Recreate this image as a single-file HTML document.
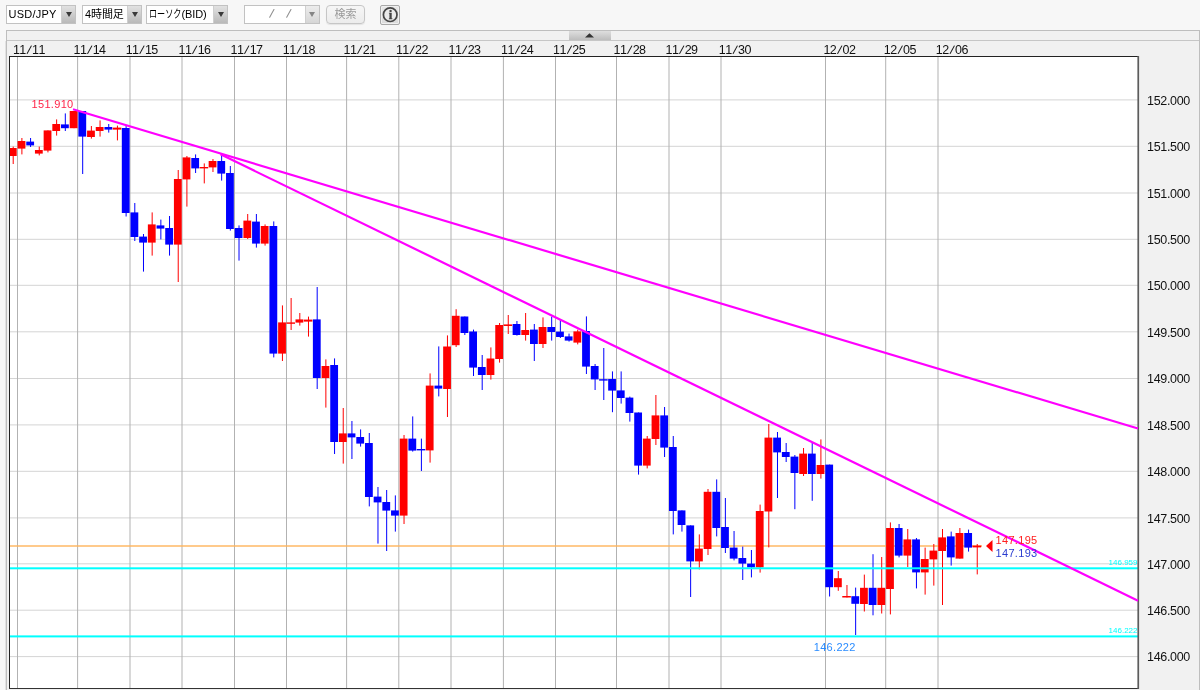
<!DOCTYPE html>
<html lang="ja"><head><meta charset="utf-8"><title>USD/JPY</title>
<style>
html,body{margin:0;padding:0}
body{width:1200px;height:690px;overflow:hidden;position:relative;background:#f7f7f7;font-family:"Liberation Sans","Noto Sans CJK JP",sans-serif;font-size:11px;color:#000}
.panel{position:absolute;left:6px;top:30px;width:1192px;height:700px;border:1px solid #bebebe;background:#f1f1f1;box-sizing:content-box}
.sep{position:absolute;left:7px;top:40px;width:1192px;height:1px;background:#c6c6c6}
.collapse{position:absolute;left:569px;top:31px;width:42px;height:9px;background:linear-gradient(#dedede,#bdbdbd)}
.dd{position:absolute;top:5px;height:17px;border:1px solid #c2c2c2;background:#fff;box-sizing:content-box;white-space:nowrap;line-height:17px}
.dd .t{position:absolute;left:2px;top:0;letter-spacing:-0.1px}
.dd .k{display:inline-block;width:32.5px;height:17px;vertical-align:top}
.dd .k span{display:inline-block;transform:scaleX(0.74);transform-origin:0 50%;white-space:nowrap}
.dd .sl{position:absolute;top:-0.6px;font-size:13px;color:#8c8c8c;transform:rotate(13deg)}
.dd .b{position:absolute;right:0;top:0;width:13px;height:17px;border-left:1px solid #cfcfcf;background:linear-gradient(#e2e2e2,#b9b9b9)}
.dd .b:after{content:"";position:absolute;left:3.5px;top:6px;border-left:3px solid transparent;border-right:3px solid transparent;border-top:5px solid #3a3a3a}
.dd.dis .b{background:linear-gradient(#ececec,#d6d6d6)}
.dd.dis .b:after{border-top-color:#858585;left:3px}
.btn{position:absolute;left:326px;top:5px;width:37px;height:17px;border:1px solid #c6c6c6;border-radius:4px;box-shadow:0 1px 1px rgba(0,0,0,0.08);background:linear-gradient(#f6f6f6,#ececec);color:#9a9a9a;text-align:center;line-height:17px}
.info{position:absolute;left:380px;top:5px;width:18px;height:18px;border:1px solid #a9a9a9;border-radius:2px;background:linear-gradient(#e8e8e8,#dcdcdc);box-shadow:inset 0 0 0 1px #f0f0f0}
</style></head><body>
<div class="dd" style="left:6px;width:68px"><span class="t" style="left:1.5px;letter-spacing:0.25px">USD/JPY</span><span class="b"></span></div>
<div class="dd" style="left:82px;width:58px"><span class="t">4時間足</span><span class="b"></span></div>
<div class="dd" style="left:146px;width:80px"><span class="t"><span class="k"><span>ローソク</span></span>(BID)</span><span class="b"></span></div>
<div class="dd dis" style="left:244px;width:74px"><span class="sl" style="left:24.8px">/</span><span class="sl" style="left:41.8px">/</span><span class="b"></span></div>
<div class="btn">検索</div>
<div class="info"><svg width="18" height="18" viewBox="0 0 18 18" style="position:absolute;left:0;top:0"><circle cx="9.2" cy="8.7" r="6.8" fill="#ebebeb" stroke="#464646" stroke-width="1.7"/><text x="9.45" y="13.2" font-family="Liberation Serif,serif" font-weight="bold" font-size="13" text-anchor="middle" fill="#444" stroke="#444" stroke-width="0.35">i</text></svg></div>
<div class="panel"></div>
<div style="position:absolute;left:5px;top:41px;width:1px;height:649px;background:#e2e2e2"></div>
<div class="sep"></div>
<div class="collapse"></div>
<svg width="1200" height="690" viewBox="0 0 1200 690" style="position:absolute;left:0;top:0">
<rect x="10" y="57" width="1128" height="631" fill="#fff"/>
<rect x="10" y="99.4" width="1128" height="1" fill="#d4d4d4"/>
<rect x="10" y="145.8" width="1128" height="1" fill="#d4d4d4"/>
<rect x="10" y="192.5" width="1128" height="1" fill="#d4d4d4"/>
<rect x="10" y="238.8" width="1128" height="1" fill="#d4d4d4"/>
<rect x="10" y="284.8" width="1128" height="1" fill="#d4d4d4"/>
<rect x="10" y="331.3" width="1128" height="1" fill="#d4d4d4"/>
<rect x="10" y="378.0" width="1128" height="1" fill="#d4d4d4"/>
<rect x="10" y="424.4" width="1128" height="1" fill="#d4d4d4"/>
<rect x="10" y="470.8" width="1128" height="1" fill="#d4d4d4"/>
<rect x="10" y="517.4" width="1128" height="1" fill="#d4d4d4"/>
<rect x="10" y="563.3" width="1128" height="1" fill="#d4d4d4"/>
<rect x="10" y="609.7" width="1128" height="1" fill="#d4d4d4"/>
<rect x="10" y="656.1" width="1128" height="1" fill="#d4d4d4"/>
<rect x="17.0" y="57" width="1" height="631" fill="#b2b2b2"/>
<rect x="77.1" y="57" width="1" height="631" fill="#b2b2b2"/>
<rect x="129.5" y="57" width="1" height="631" fill="#b2b2b2"/>
<rect x="181.5" y="57" width="1" height="631" fill="#b2b2b2"/>
<rect x="234.0" y="57" width="1" height="631" fill="#b2b2b2"/>
<rect x="286.0" y="57" width="1" height="631" fill="#b2b2b2"/>
<rect x="346.1" y="57" width="1" height="631" fill="#b2b2b2"/>
<rect x="398.3" y="57" width="1" height="631" fill="#b2b2b2"/>
<rect x="450.5" y="57" width="1" height="631" fill="#b2b2b2"/>
<rect x="502.9" y="57" width="1" height="631" fill="#b2b2b2"/>
<rect x="555.0" y="57" width="1" height="631" fill="#b2b2b2"/>
<rect x="616.0" y="57" width="1" height="631" fill="#b2b2b2"/>
<rect x="668.5" y="57" width="1" height="631" fill="#b2b2b2"/>
<rect x="720.5" y="57" width="1" height="631" fill="#b2b2b2"/>
<rect x="825.0" y="57" width="1" height="631" fill="#b2b2b2"/>
<rect x="885.2" y="57" width="1" height="631" fill="#b2b2b2"/>
<rect x="937.5" y="57" width="1" height="631" fill="#b2b2b2"/>
<rect x="10" y="545.3" width="972" height="1.4" fill="#ffb45a"/>
<g shape-rendering="crispEdges">
</g>
<rect x="12.70" y="146.6" width="1" height="17.4" fill="#ff0000"/>
<rect x="10.00" y="148.0" width="6.70" height="8.0" fill="#ff0000"/>
<rect x="21.39" y="138.0" width="1" height="16.4" fill="#ff0000"/>
<rect x="17.59" y="141.0" width="7.80" height="7.6" fill="#ff0000"/>
<rect x="30.07" y="138.0" width="1" height="9.0" fill="#0000ff"/>
<rect x="26.27" y="141.6" width="7.80" height="3.8" fill="#0000ff"/>
<rect x="38.75" y="146.6" width="1" height="8.8" fill="#ff0000"/>
<rect x="34.95" y="150.0" width="7.80" height="3.6" fill="#ff0000"/>
<rect x="47.44" y="130.4" width="1" height="22.0" fill="#ff0000"/>
<rect x="43.64" y="130.4" width="7.80" height="20.2" fill="#ff0000"/>
<rect x="56.12" y="119.4" width="1" height="16.2" fill="#ff0000"/>
<rect x="52.33" y="124.0" width="7.80" height="7.0" fill="#ff0000"/>
<rect x="64.81" y="113.4" width="1" height="17.6" fill="#0000ff"/>
<rect x="61.01" y="124.4" width="7.80" height="3.8" fill="#0000ff"/>
<rect x="73.50" y="111.0" width="1" height="17.2" fill="#ff0000"/>
<rect x="69.70" y="111.0" width="7.80" height="17.2" fill="#ff0000"/>
<rect x="82.18" y="111.0" width="1" height="63.0" fill="#0000ff"/>
<rect x="78.38" y="111.0" width="7.80" height="25.6" fill="#0000ff"/>
<rect x="90.87" y="126.0" width="1" height="12.6" fill="#ff0000"/>
<rect x="87.07" y="130.6" width="7.80" height="6.4" fill="#ff0000"/>
<rect x="99.55" y="120.4" width="1" height="16.2" fill="#ff0000"/>
<rect x="95.75" y="127.0" width="7.80" height="4.0" fill="#ff0000"/>
<rect x="108.24" y="124.0" width="1" height="8.6" fill="#0000ff"/>
<rect x="104.44" y="127.0" width="7.80" height="2.6" fill="#0000ff"/>
<rect x="116.92" y="125.6" width="1" height="14.8" fill="#ff0000"/>
<rect x="112.72" y="127.6" width="8.60" height="2.0" fill="#ff0000"/>
<rect x="125.61" y="125.0" width="1" height="91.5" fill="#0000ff"/>
<rect x="121.81" y="128.0" width="7.80" height="85.0" fill="#0000ff"/>
<rect x="134.29" y="203.0" width="1" height="38.0" fill="#0000ff"/>
<rect x="130.49" y="212.4" width="7.80" height="24.6" fill="#0000ff"/>
<rect x="142.98" y="234.0" width="1" height="37.6" fill="#0000ff"/>
<rect x="139.18" y="236.6" width="7.80" height="6.0" fill="#0000ff"/>
<rect x="151.66" y="212.4" width="1" height="43.2" fill="#ff0000"/>
<rect x="147.86" y="224.4" width="7.80" height="18.2" fill="#ff0000"/>
<rect x="160.35" y="219.6" width="1" height="19.8" fill="#0000ff"/>
<rect x="156.55" y="225.4" width="7.80" height="3.2" fill="#0000ff"/>
<rect x="169.03" y="216.0" width="1" height="39.6" fill="#0000ff"/>
<rect x="165.23" y="228.0" width="7.80" height="16.6" fill="#0000ff"/>
<rect x="177.72" y="170.0" width="1" height="112.0" fill="#ff0000"/>
<rect x="173.92" y="179.0" width="7.80" height="65.6" fill="#ff0000"/>
<rect x="186.40" y="156.0" width="1" height="50.6" fill="#ff0000"/>
<rect x="182.60" y="157.4" width="7.80" height="22.0" fill="#ff0000"/>
<rect x="195.09" y="154.4" width="1" height="18.6" fill="#0000ff"/>
<rect x="191.29" y="158.0" width="7.80" height="10.4" fill="#0000ff"/>
<rect x="203.77" y="163.4" width="1" height="20.0" fill="#ff0000"/>
<rect x="199.57" y="167.0" width="8.60" height="1.4" fill="#ff0000"/>
<rect x="212.46" y="159.0" width="1" height="13.0" fill="#ff0000"/>
<rect x="208.66" y="161.0" width="7.80" height="6.4" fill="#ff0000"/>
<rect x="221.14" y="154.5" width="1" height="26.1" fill="#0000ff"/>
<rect x="217.34" y="161.0" width="7.80" height="12.6" fill="#0000ff"/>
<rect x="229.83" y="166.0" width="1" height="64.6" fill="#0000ff"/>
<rect x="226.03" y="173.0" width="7.80" height="56.0" fill="#0000ff"/>
<rect x="238.51" y="225.4" width="1" height="35.2" fill="#0000ff"/>
<rect x="234.71" y="228.0" width="7.80" height="10.0" fill="#0000ff"/>
<rect x="247.20" y="214.0" width="1" height="25.0" fill="#ff0000"/>
<rect x="243.40" y="220.6" width="7.80" height="17.4" fill="#ff0000"/>
<rect x="255.88" y="214.0" width="1" height="33.6" fill="#0000ff"/>
<rect x="252.08" y="221.6" width="7.80" height="22.0" fill="#0000ff"/>
<rect x="264.56" y="224.4" width="1" height="21.2" fill="#ff0000"/>
<rect x="260.76" y="226.0" width="7.80" height="17.6" fill="#ff0000"/>
<rect x="273.25" y="221.4" width="1" height="136.0" fill="#0000ff"/>
<rect x="269.45" y="226.0" width="7.80" height="127.6" fill="#0000ff"/>
<rect x="281.94" y="305.4" width="1" height="55.6" fill="#ff0000"/>
<rect x="278.13" y="322.4" width="7.80" height="31.2" fill="#ff0000"/>
<rect x="290.62" y="298.0" width="1" height="32.0" fill="#ff0000"/>
<rect x="286.42" y="322.4" width="8.60" height="1.4" fill="#ff0000"/>
<rect x="299.31" y="313.0" width="1" height="12.6" fill="#ff0000"/>
<rect x="295.50" y="319.4" width="7.80" height="3.2" fill="#ff0000"/>
<rect x="307.99" y="316.6" width="1" height="20.0" fill="#ff0000"/>
<rect x="303.79" y="319.6" width="8.60" height="2.0" fill="#ff0000"/>
<rect x="316.68" y="287.0" width="1" height="102.0" fill="#0000ff"/>
<rect x="312.88" y="319.4" width="7.80" height="58.6" fill="#0000ff"/>
<rect x="325.36" y="359.4" width="1" height="48.2" fill="#ff0000"/>
<rect x="321.56" y="366.0" width="7.80" height="12.0" fill="#ff0000"/>
<rect x="334.05" y="358.4" width="1" height="95.6" fill="#0000ff"/>
<rect x="330.25" y="365.0" width="7.80" height="77.0" fill="#0000ff"/>
<rect x="342.73" y="408.0" width="1" height="55.6" fill="#ff0000"/>
<rect x="338.93" y="433.4" width="7.80" height="8.6" fill="#ff0000"/>
<rect x="351.42" y="421.0" width="1" height="38.0" fill="#0000ff"/>
<rect x="347.62" y="433.4" width="7.80" height="4.0" fill="#0000ff"/>
<rect x="360.10" y="429.4" width="1" height="17.2" fill="#0000ff"/>
<rect x="356.30" y="437.0" width="7.80" height="6.6" fill="#0000ff"/>
<rect x="368.79" y="433.0" width="1" height="73.4" fill="#0000ff"/>
<rect x="364.99" y="443.0" width="7.80" height="54.0" fill="#0000ff"/>
<rect x="377.47" y="487.0" width="1" height="56.6" fill="#0000ff"/>
<rect x="373.67" y="496.6" width="7.80" height="5.8" fill="#0000ff"/>
<rect x="386.16" y="490.0" width="1" height="61.0" fill="#0000ff"/>
<rect x="382.36" y="502.0" width="7.80" height="8.6" fill="#0000ff"/>
<rect x="394.84" y="495.4" width="1" height="36.2" fill="#0000ff"/>
<rect x="391.04" y="510.4" width="7.80" height="5.2" fill="#0000ff"/>
<rect x="403.53" y="435.0" width="1" height="89.0" fill="#ff0000"/>
<rect x="399.73" y="438.6" width="7.80" height="77.0" fill="#ff0000"/>
<rect x="412.21" y="416.4" width="1" height="35.2" fill="#0000ff"/>
<rect x="408.41" y="438.6" width="7.80" height="12.0" fill="#0000ff"/>
<rect x="420.90" y="438.6" width="1" height="32.4" fill="#0000ff"/>
<rect x="416.70" y="449.0" width="8.60" height="1.4" fill="#0000ff"/>
<rect x="429.58" y="373.4" width="1" height="89.2" fill="#ff0000"/>
<rect x="425.78" y="385.6" width="7.80" height="64.8" fill="#ff0000"/>
<rect x="438.26" y="346.4" width="1" height="50.0" fill="#0000ff"/>
<rect x="434.46" y="385.6" width="7.80" height="3.0" fill="#0000ff"/>
<rect x="446.95" y="335.4" width="1" height="81.6" fill="#ff0000"/>
<rect x="443.15" y="346.5" width="7.80" height="42.5" fill="#ff0000"/>
<rect x="455.63" y="309.2" width="1" height="37.8" fill="#ff0000"/>
<rect x="451.83" y="315.8" width="7.80" height="29.4" fill="#ff0000"/>
<rect x="464.32" y="316.5" width="1" height="18.5" fill="#0000ff"/>
<rect x="460.52" y="316.5" width="7.80" height="16.5" fill="#0000ff"/>
<rect x="473.00" y="329.6" width="1" height="46.4" fill="#0000ff"/>
<rect x="469.20" y="331.5" width="7.80" height="36.1" fill="#0000ff"/>
<rect x="481.69" y="355.0" width="1" height="35.0" fill="#0000ff"/>
<rect x="477.89" y="367.0" width="7.80" height="8.0" fill="#0000ff"/>
<rect x="490.38" y="347.4" width="1" height="32.2" fill="#ff0000"/>
<rect x="486.57" y="358.5" width="7.80" height="16.5" fill="#ff0000"/>
<rect x="499.06" y="323.0" width="1" height="39.6" fill="#ff0000"/>
<rect x="495.26" y="325.0" width="7.80" height="34.0" fill="#ff0000"/>
<rect x="507.75" y="315.0" width="1" height="19.0" fill="#ff0000"/>
<rect x="503.55" y="324.4" width="8.60" height="1.6" fill="#ff0000"/>
<rect x="516.43" y="321.0" width="1" height="14.6" fill="#0000ff"/>
<rect x="512.63" y="324.0" width="7.80" height="11.0" fill="#0000ff"/>
<rect x="525.12" y="313.0" width="1" height="27.6" fill="#ff0000"/>
<rect x="521.32" y="330.0" width="7.80" height="5.0" fill="#ff0000"/>
<rect x="533.80" y="324.0" width="1" height="37.0" fill="#0000ff"/>
<rect x="530.00" y="329.6" width="7.80" height="14.4" fill="#0000ff"/>
<rect x="542.49" y="317.4" width="1" height="30.6" fill="#ff0000"/>
<rect x="538.69" y="327.0" width="7.80" height="17.0" fill="#ff0000"/>
<rect x="551.17" y="316.6" width="1" height="24.0" fill="#0000ff"/>
<rect x="547.37" y="327.0" width="7.80" height="5.0" fill="#0000ff"/>
<rect x="559.86" y="320.0" width="1" height="18.0" fill="#0000ff"/>
<rect x="556.06" y="331.6" width="7.80" height="5.4" fill="#0000ff"/>
<rect x="568.54" y="333.6" width="1" height="8.0" fill="#0000ff"/>
<rect x="564.74" y="336.4" width="7.80" height="4.2" fill="#0000ff"/>
<rect x="577.22" y="329.6" width="1" height="14.8" fill="#ff0000"/>
<rect x="573.42" y="331.4" width="7.80" height="11.2" fill="#ff0000"/>
<rect x="585.91" y="316.4" width="1" height="57.6" fill="#0000ff"/>
<rect x="582.11" y="331.0" width="7.80" height="35.6" fill="#0000ff"/>
<rect x="594.59" y="364.0" width="1" height="26.0" fill="#0000ff"/>
<rect x="590.79" y="366.0" width="7.80" height="13.4" fill="#0000ff"/>
<rect x="603.28" y="348.0" width="1" height="52.0" fill="#0000ff"/>
<rect x="599.08" y="379.2" width="8.60" height="1.4" fill="#0000ff"/>
<rect x="611.96" y="371.4" width="1" height="40.8" fill="#0000ff"/>
<rect x="608.16" y="379.0" width="7.80" height="11.6" fill="#0000ff"/>
<rect x="620.65" y="371.4" width="1" height="32.2" fill="#0000ff"/>
<rect x="616.85" y="390.4" width="7.80" height="7.6" fill="#0000ff"/>
<rect x="629.33" y="396.6" width="1" height="25.0" fill="#0000ff"/>
<rect x="625.53" y="397.6" width="7.80" height="15.4" fill="#0000ff"/>
<rect x="638.02" y="412.5" width="1" height="62.1" fill="#0000ff"/>
<rect x="634.22" y="412.5" width="7.80" height="53.1" fill="#0000ff"/>
<rect x="646.70" y="436.0" width="1" height="32.4" fill="#ff0000"/>
<rect x="642.90" y="438.6" width="7.80" height="27.0" fill="#ff0000"/>
<rect x="655.39" y="395.0" width="1" height="50.0" fill="#ff0000"/>
<rect x="651.59" y="415.4" width="7.80" height="23.6" fill="#ff0000"/>
<rect x="664.07" y="407.0" width="1" height="50.0" fill="#0000ff"/>
<rect x="660.27" y="415.4" width="7.80" height="32.2" fill="#0000ff"/>
<rect x="672.76" y="436.0" width="1" height="98.4" fill="#0000ff"/>
<rect x="668.96" y="447.0" width="7.80" height="64.0" fill="#0000ff"/>
<rect x="681.44" y="510.4" width="1" height="21.2" fill="#0000ff"/>
<rect x="677.64" y="510.4" width="7.80" height="14.6" fill="#0000ff"/>
<rect x="690.13" y="525.4" width="1" height="71.6" fill="#0000ff"/>
<rect x="686.33" y="525.4" width="7.80" height="36.0" fill="#0000ff"/>
<rect x="698.81" y="534.4" width="1" height="35.0" fill="#ff0000"/>
<rect x="695.01" y="548.6" width="7.80" height="12.8" fill="#ff0000"/>
<rect x="707.50" y="489.0" width="1" height="66.0" fill="#ff0000"/>
<rect x="703.70" y="491.8" width="7.80" height="57.2" fill="#ff0000"/>
<rect x="716.18" y="479.4" width="1" height="57.0" fill="#0000ff"/>
<rect x="712.38" y="491.8" width="7.80" height="36.2" fill="#0000ff"/>
<rect x="724.87" y="498.0" width="1" height="55.0" fill="#0000ff"/>
<rect x="721.07" y="527.0" width="7.80" height="21.0" fill="#0000ff"/>
<rect x="733.55" y="531.0" width="1" height="29.4" fill="#0000ff"/>
<rect x="729.75" y="547.6" width="7.80" height="11.0" fill="#0000ff"/>
<rect x="742.24" y="546.6" width="1" height="33.4" fill="#0000ff"/>
<rect x="738.44" y="558.0" width="7.80" height="5.6" fill="#0000ff"/>
<rect x="750.92" y="550.0" width="1" height="27.4" fill="#0000ff"/>
<rect x="747.12" y="563.6" width="7.80" height="3.8" fill="#0000ff"/>
<rect x="759.61" y="504.6" width="1" height="68.0" fill="#ff0000"/>
<rect x="755.81" y="511.0" width="7.80" height="56.4" fill="#ff0000"/>
<rect x="768.29" y="424.0" width="1" height="123.4" fill="#ff0000"/>
<rect x="764.50" y="437.6" width="7.80" height="73.9" fill="#ff0000"/>
<rect x="776.98" y="432.0" width="1" height="66.0" fill="#0000ff"/>
<rect x="773.18" y="437.6" width="7.80" height="14.8" fill="#0000ff"/>
<rect x="785.66" y="443.0" width="1" height="19.0" fill="#0000ff"/>
<rect x="781.87" y="452.0" width="7.80" height="5.0" fill="#0000ff"/>
<rect x="794.35" y="455.0" width="1" height="54.2" fill="#0000ff"/>
<rect x="790.55" y="456.6" width="7.80" height="16.4" fill="#0000ff"/>
<rect x="803.03" y="448.0" width="1" height="28.0" fill="#ff0000"/>
<rect x="799.24" y="453.6" width="7.80" height="20.4" fill="#ff0000"/>
<rect x="811.72" y="442.4" width="1" height="58.4" fill="#0000ff"/>
<rect x="807.92" y="453.6" width="7.80" height="20.4" fill="#0000ff"/>
<rect x="820.40" y="439.4" width="1" height="39.2" fill="#ff0000"/>
<rect x="816.61" y="465.0" width="7.80" height="9.0" fill="#ff0000"/>
<rect x="829.09" y="464.6" width="1" height="131.9" fill="#0000ff"/>
<rect x="825.29" y="464.6" width="7.80" height="122.6" fill="#0000ff"/>
<rect x="837.77" y="571.0" width="1" height="19.8" fill="#ff0000"/>
<rect x="833.98" y="578.2" width="7.80" height="9.0" fill="#ff0000"/>
<rect x="846.46" y="585.0" width="1" height="12.5" fill="#ff0000"/>
<rect x="842.26" y="596.0" width="8.60" height="1.5" fill="#ff0000"/>
<rect x="855.14" y="587.6" width="1" height="47.4" fill="#0000ff"/>
<rect x="851.35" y="596.2" width="7.80" height="7.6" fill="#0000ff"/>
<rect x="863.83" y="574.6" width="1" height="36.9" fill="#ff0000"/>
<rect x="860.03" y="587.8" width="7.80" height="16.2" fill="#ff0000"/>
<rect x="872.51" y="554.2" width="1" height="61.1" fill="#0000ff"/>
<rect x="868.72" y="587.8" width="7.80" height="17.2" fill="#0000ff"/>
<rect x="881.20" y="557.0" width="1" height="56.5" fill="#ff0000"/>
<rect x="877.40" y="587.8" width="7.80" height="17.2" fill="#ff0000"/>
<rect x="889.88" y="522.4" width="1" height="92.0" fill="#ff0000"/>
<rect x="886.09" y="528.0" width="7.80" height="61.0" fill="#ff0000"/>
<rect x="898.57" y="524.0" width="1" height="33.4" fill="#0000ff"/>
<rect x="894.77" y="528.0" width="7.80" height="27.6" fill="#0000ff"/>
<rect x="907.25" y="529.0" width="1" height="38.0" fill="#ff0000"/>
<rect x="903.46" y="539.4" width="7.80" height="16.2" fill="#ff0000"/>
<rect x="915.94" y="538.0" width="1" height="50.4" fill="#0000ff"/>
<rect x="912.14" y="539.4" width="7.80" height="33.0" fill="#0000ff"/>
<rect x="924.62" y="547.6" width="1" height="47.0" fill="#ff0000"/>
<rect x="920.83" y="559.0" width="7.80" height="13.4" fill="#ff0000"/>
<rect x="933.31" y="544.0" width="1" height="41.6" fill="#ff0000"/>
<rect x="929.51" y="550.6" width="7.80" height="8.8" fill="#ff0000"/>
<rect x="942.00" y="529.0" width="1" height="76.0" fill="#ff0000"/>
<rect x="938.20" y="537.4" width="7.80" height="13.6" fill="#ff0000"/>
<rect x="950.68" y="531.6" width="1" height="34.0" fill="#0000ff"/>
<rect x="946.88" y="536.4" width="7.80" height="21.0" fill="#0000ff"/>
<rect x="959.37" y="528.0" width="1" height="30.6" fill="#ff0000"/>
<rect x="955.57" y="533.0" width="7.80" height="25.6" fill="#ff0000"/>
<rect x="968.05" y="529.6" width="1" height="22.0" fill="#0000ff"/>
<rect x="964.25" y="533.0" width="7.80" height="14.6" fill="#0000ff"/>
<rect x="976.74" y="544.0" width="1" height="30.4" fill="#ff0000"/>
<rect x="972.54" y="545.6" width="8.60" height="1.8" fill="#ff0000"/>
<g shape-rendering="crispEdges">
</g>
<rect x="10" y="567.3" width="1128" height="2" fill="#00ffff"/>
<rect x="10" y="635.4" width="1128" height="2" fill="#00ffff"/>
<g shape-rendering="crispEdges">
<rect x="9" y="56" width="1130" height="1" fill="#222"/>
<rect x="9" y="56" width="1" height="633" fill="#222"/>
<rect x="9" y="688" width="1130" height="1" fill="#333"/>
</g>
<rect x="1137.4" y="56" width="1.7" height="633" fill="#5c5c5c"/>
<line x1="73" y1="109.3" x2="1138" y2="428.5" stroke="#ff00ff" stroke-width="2.2"/>
<line x1="220.5" y1="154.3" x2="1138" y2="600.7" stroke="#ff00ff" stroke-width="2.2"/>
<polygon points="585,37.4 594,37.4 589.5,33.2" fill="#333"/>
<polygon points="986,546 992.5,540 992.5,552" fill="#ff0000"/>
<g font-family="Liberation Sans, Arial, sans-serif">
<g font-size="12.5" text-anchor="middle" fill="#111"><text x="16.4 22.8" y="54.2">11</text><text x="29.2" y="54.2" transform="rotate(13 29.2 49.8)">/</text><text x="35.6 42.0" y="54.2">11</text></g>
<g font-size="12.5" text-anchor="middle" fill="#111"><text x="77.0 83.4" y="54.2">11</text><text x="89.8" y="54.2" transform="rotate(13 89.8 49.8)">/</text><text x="96.2 102.6" y="54.2">14</text></g>
<g font-size="12.5" text-anchor="middle" fill="#111"><text x="129.2 135.6" y="54.2">11</text><text x="142.0" y="54.2" transform="rotate(13 142.0 49.8)">/</text><text x="148.4 154.8" y="54.2">15</text></g>
<g font-size="12.5" text-anchor="middle" fill="#111"><text x="182.0 188.4" y="54.2">11</text><text x="194.8" y="54.2" transform="rotate(13 194.8 49.8)">/</text><text x="201.2 207.6" y="54.2">16</text></g>
<g font-size="12.5" text-anchor="middle" fill="#111"><text x="234.0 240.4" y="54.2">11</text><text x="246.8" y="54.2" transform="rotate(13 246.8 49.8)">/</text><text x="253.2 259.6" y="54.2">17</text></g>
<g font-size="12.5" text-anchor="middle" fill="#111"><text x="286.3 292.7" y="54.2">11</text><text x="299.1" y="54.2" transform="rotate(13 299.1 49.8)">/</text><text x="305.5 311.9" y="54.2">18</text></g>
<g font-size="12.5" text-anchor="middle" fill="#111"><text x="347.0 353.4" y="54.2">11</text><text x="359.8" y="54.2" transform="rotate(13 359.8 49.8)">/</text><text x="366.2 372.6" y="54.2">21</text></g>
<g font-size="12.5" text-anchor="middle" fill="#111"><text x="399.4 405.8" y="54.2">11</text><text x="412.2" y="54.2" transform="rotate(13 412.2 49.8)">/</text><text x="418.6 425.0" y="54.2">22</text></g>
<g font-size="12.5" text-anchor="middle" fill="#111"><text x="452.0 458.4" y="54.2">11</text><text x="464.8" y="54.2" transform="rotate(13 464.8 49.8)">/</text><text x="471.2 477.6" y="54.2">23</text></g>
<g font-size="12.5" text-anchor="middle" fill="#111"><text x="504.6 511.0" y="54.2">11</text><text x="517.4" y="54.2" transform="rotate(13 517.4 49.8)">/</text><text x="523.8 530.2" y="54.2">24</text></g>
<g font-size="12.5" text-anchor="middle" fill="#111"><text x="556.6 563.0" y="54.2">11</text><text x="569.4" y="54.2" transform="rotate(13 569.4 49.8)">/</text><text x="575.8 582.2" y="54.2">25</text></g>
<g font-size="12.5" text-anchor="middle" fill="#111"><text x="617.0 623.4" y="54.2">11</text><text x="629.8" y="54.2" transform="rotate(13 629.8 49.8)">/</text><text x="636.2 642.6" y="54.2">28</text></g>
<g font-size="12.5" text-anchor="middle" fill="#111"><text x="669.0 675.4" y="54.2">11</text><text x="681.8" y="54.2" transform="rotate(13 681.8 49.8)">/</text><text x="688.2 694.6" y="54.2">29</text></g>
<g font-size="12.5" text-anchor="middle" fill="#111"><text x="722.3 728.7" y="54.2">11</text><text x="735.1" y="54.2" transform="rotate(13 735.1 49.8)">/</text><text x="741.5 747.9" y="54.2">30</text></g>
<g font-size="12.5" text-anchor="middle" fill="#111"><text x="826.9 833.3" y="54.2">12</text><text x="839.7" y="54.2" transform="rotate(13 839.7 49.8)">/</text><text x="846.1 852.5" y="54.2">02</text></g>
<g font-size="12.5" text-anchor="middle" fill="#111"><text x="887.3 893.7" y="54.2">12</text><text x="900.1" y="54.2" transform="rotate(13 900.1 49.8)">/</text><text x="906.5 912.9" y="54.2">05</text></g>
<g font-size="12.5" text-anchor="middle" fill="#111"><text x="939.3 945.7" y="54.2">12</text><text x="952.1" y="54.2" transform="rotate(13 952.1 49.8)">/</text><text x="958.5 964.9" y="54.2">06</text></g>
<text x="1147" y="104.6" font-size="12.5" letter-spacing="-0.32" fill="#111">152.000</text>
<text x="1147" y="151.0" font-size="12.5" letter-spacing="-0.32" fill="#111">151.500</text>
<text x="1147" y="197.7" font-size="12.5" letter-spacing="-0.32" fill="#111">151.000</text>
<text x="1147" y="244.0" font-size="12.5" letter-spacing="-0.32" fill="#111">150.500</text>
<text x="1147" y="290.0" font-size="12.5" letter-spacing="-0.32" fill="#111">150.000</text>
<text x="1147" y="336.5" font-size="12.5" letter-spacing="-0.32" fill="#111">149.500</text>
<text x="1147" y="383.2" font-size="12.5" letter-spacing="-0.32" fill="#111">149.000</text>
<text x="1147" y="429.6" font-size="12.5" letter-spacing="-0.32" fill="#111">148.500</text>
<text x="1147" y="476.0" font-size="12.5" letter-spacing="-0.32" fill="#111">148.000</text>
<text x="1147" y="522.6" font-size="12.5" letter-spacing="-0.32" fill="#111">147.500</text>
<text x="1147" y="568.5" font-size="12.5" letter-spacing="-0.32" fill="#111">147.000</text>
<text x="1147" y="614.9" font-size="12.5" letter-spacing="-0.32" fill="#111">146.500</text>
<text x="1147" y="661.3" font-size="12.5" letter-spacing="-0.32" fill="#111">146.000</text>
<text x="31.5" y="108.4" font-size="11" letter-spacing="0.33" fill="#ff2448">151.910</text>
<text x="813.7" y="650.8" font-size="11" letter-spacing="0.33" fill="#2a8cff">146.222</text>
<text x="995.5" y="544" font-size="11" letter-spacing="0.33" fill="#ff2020">147.195</text>
<text x="995.5" y="557" font-size="11" letter-spacing="0.33" fill="#2a3cd0">147.193</text>
<text x="1137.5" y="565" font-size="8" text-anchor="end" fill="#00ffff">146.959</text>
<text x="1137.5" y="633" font-size="8" text-anchor="end" fill="#00ffff">146.222</text>
</g>
</svg>
</body></html>
